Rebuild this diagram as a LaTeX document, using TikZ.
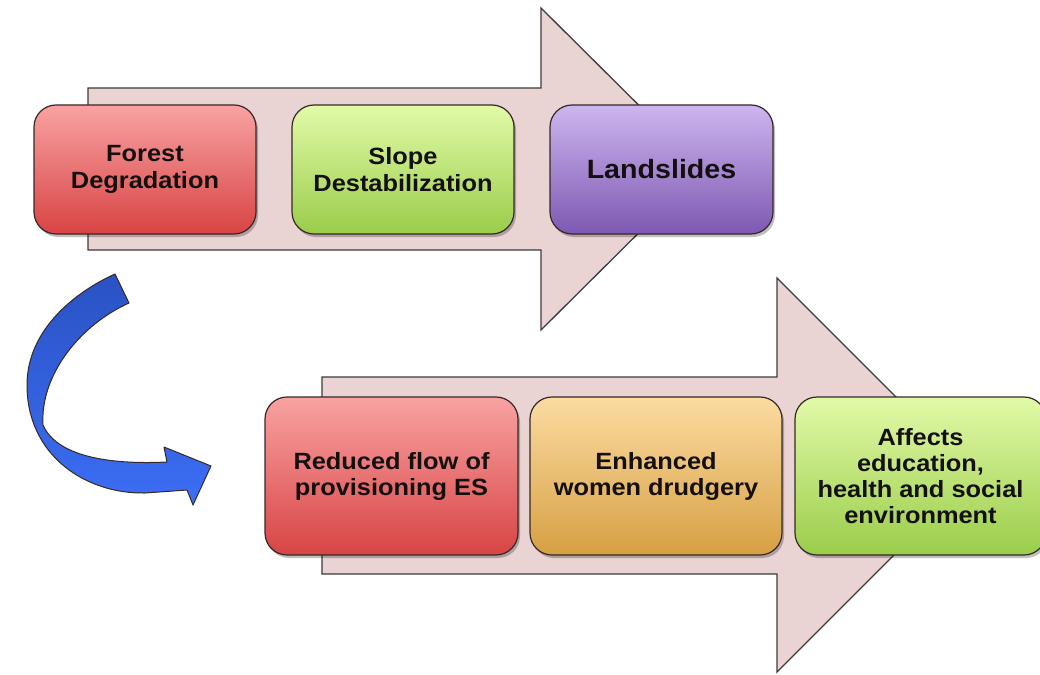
\documentclass[tikz,border=0pt]{standalone}
\usepackage{fontspec}
\setmainfont{Liberation Sans}[FakeStretch=1.08]
\usetikzlibrary{shadows}
\definecolor{redtop}{HTML}{F9A2A2}
\definecolor{redbot}{HTML}{D84444}
\definecolor{greentop}{HTML}{E2FAA8}
\definecolor{greenbot}{HTML}{9ACD4A}
\definecolor{purptop}{HTML}{CDB6EE}
\definecolor{purpbot}{HTML}{7E58B2}
\definecolor{orantop}{HTML}{FCDBA2}
\definecolor{oranbot}{HTML}{D6A042}
\definecolor{arrowfill}{HTML}{E9D3D3}
\definecolor{arrowline}{HTML}{3C3C3C}
\definecolor{bluetop}{HTML}{2A52C4}
\definecolor{bluebot}{HTML}{3C6EF4}
\definecolor{boxline}{HTML}{352828}
\definecolor{txt}{HTML}{151010}
\tikzset{
  bigarrow/.style={fill=arrowfill, draw=arrowline, line width=1.3pt, line join=miter},
  stagebox/.style={draw=boxline, line width=1.2pt, rounded corners=22pt, inner sep=0pt,
    align=center, text=txt,
    drop shadow={shadow xshift=2pt, shadow yshift=-3pt, opacity=0.25, fill=black}},
  topfont/.style={font=\fontsize{23.5}{27}\selectfont\bfseries},
  botfont/.style={font=\fontsize{23.5}{26}\selectfont\bfseries},
  redbox/.style={top color=redtop, bottom color=redbot},
  greenbox/.style={top color=greentop, bottom color=greenbot},
  purpbox/.style={top color=purptop, bottom color=purpbot},
  oranbox/.style={top color=orantop, bottom color=oranbot},
}
\begin{document}
\begin{tikzpicture}[x=1pt,y=-1pt]
\useasboundingbox (0,0) rectangle (1040,674);
% big arrows
\draw[bigarrow] (88,88) -- (541,88) -- (541,8) -- (703,169) -- (541,330) -- (541,250) -- (88,250) -- cycle;
\draw[bigarrow] (322,377) -- (777,377) -- (777,278) -- (974,475) -- (777,672) -- (777,574) -- (322,574) -- cycle;
% top boxes
\node[stagebox, redbox, topfont, minimum width=222pt, minimum height=129pt] (forest) at (145,169.5) {Forest\\Degradation};
\node[stagebox, greenbox, topfont, minimum width=222pt, minimum height=129pt] (slope) at (403,169.5) {Slope\\Destabilization};
\node[stagebox, purpbox, font=\fontsize{26.5}{30}\selectfont\bfseries, minimum width=223pt, minimum height=129pt] (land) at (661.5,169.5) {Landslides};
% bottom boxes
\node[stagebox, redbox, botfont, minimum width=253pt, minimum height=158pt] (reduced) at (391.5,476) {Reduced flow of\\provisioning ES};
\node[stagebox, oranbox, botfont, minimum width=252pt, minimum height=158pt] (women) at (656,476) {Enhanced\\women drudgery};
\node[stagebox, greenbox, botfont, minimum width=251pt, minimum height=158pt] (affects) at (920.5,476) {Affects\\education,\\health and social\\environment};
% blue curved arrow
\draw[top color=bluetop, bottom color=bluebot, draw=boxline, line width=1pt, line join=round]
  (115,274) .. controls (75,292) and (27,330) .. (27,385)
  .. controls (27,455) and (85,494) .. (145,493)
  -- (187,490) -- (193,505) -- (211,466) -- (164,447) -- (167,462)
  .. controls (105,465) and (56,455) .. (43,425)
  .. controls (40,375) and (80,325) .. (129,303) -- cycle;
\end{tikzpicture}
\end{document}
